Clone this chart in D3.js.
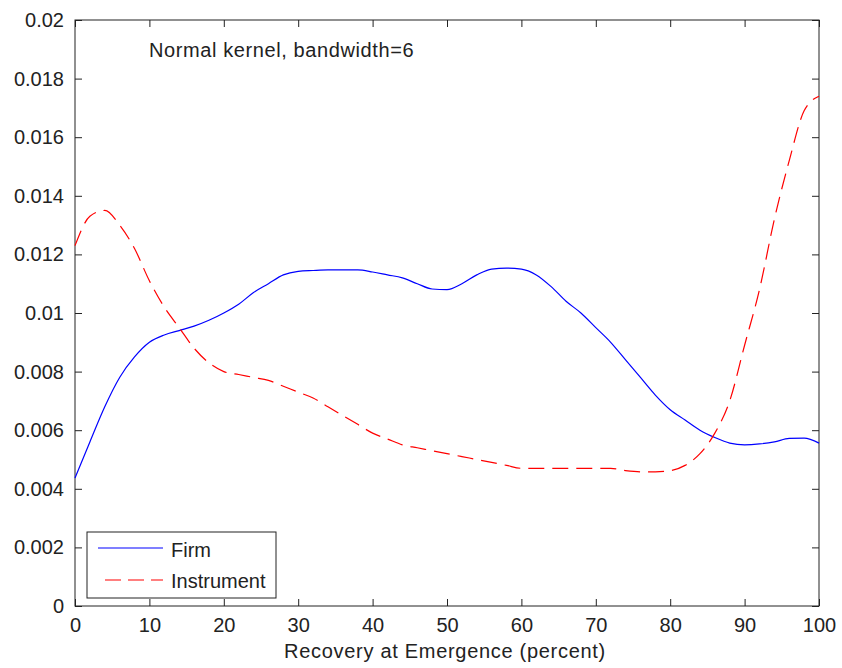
<!DOCTYPE html>
<html><head><meta charset="utf-8">
<script src="https://cdn.jsdelivr.net/npm/d3@7"></script>
<style>body{margin:0;background:#fff}svg{display:block}text{font-family:"Liberation Sans",Arial,sans-serif;fill:#222}</style>
</head><body><svg id="c" width="842" height="668"></svg>
<script>
const xs = d3.range(0, 101, 2);
const firm = [0.00437,0.0056,0.0068,0.0078,0.0085,0.0090,0.00925,0.0094,0.00955,0.00975,0.0100,0.0103,0.0107,0.0110,0.0113,0.01142,0.01145,0.01147,0.01147,0.01147,0.0114,0.0113,0.0112,0.0110,0.01082,0.0108,0.0110,0.0113,0.0115,0.01153,0.0115,0.0113,0.0109,0.0104,0.0100,0.0095,0.0090,0.0084,0.0078,0.0072,0.0067,0.00635,0.0060,0.00575,0.00556,0.0055,0.00553,0.0056,0.00572,0.00573,0.00556];
const instrument = [0.0123,0.0133,0.0135,0.0130,0.0122,0.0111,0.0102,0.0095,0.0088,0.0083,0.0080,0.0079,0.0078,0.0077,0.0075,0.0073,0.0071,0.0068,0.0065,0.0062,0.0059,0.0057,0.0055,0.0054,0.0053,0.0052,0.0051,0.0050,0.0049,0.0048,0.0047,0.0047,0.0047,0.0047,0.0047,0.0047,0.0047,0.00462,0.00458,0.00458,0.00462,0.0048,0.0052,0.0059,0.0070,0.0089,0.0108,0.0132,0.0152,0.0169,0.0174];
const xTicks = d3.range(0, 101, 10);
const yTicks = [0,0.002,0.004,0.006,0.008,0.01,0.012,0.014,0.016,0.018,0.02];
const yTickLabels = ["0","0.002","0.004","0.006","0.008","0.01","0.012","0.014","0.016","0.018","0.02"];
const seriesNames = ["Firm","Instrument"];
const titleText = "Normal kernel, bandwidth=6";
const xLabel = "Recovery at Emergence (percent)";

const L=75,R=819,T=20,B=606;
const svg=d3.select("#c");
const x=d3.scaleLinear().domain([0,100]).range([L,R]);
const y=d3.scaleLinear().domain([0,0.02]).range([B,T]);
const tl=7, axc="#222";
svg.append("rect").attr("x",L).attr("y",T).attr("width",R-L).attr("height",B-T).attr("fill","none").attr("stroke",axc).attr("stroke-width",1);
const fs="20px";
const gx=svg.append("g").attr("transform",`translate(0,${B})`).call(d3.axisBottom(x).tickValues(xTicks).tickSize(-tl).tickPadding(tl+4).tickFormat(d3.format("d")));
const gxt=svg.append("g").attr("transform",`translate(0,${T})`).call(d3.axisTop(x).tickValues(xTicks).tickSize(-tl).tickFormat(""));
const gy=svg.append("g").attr("transform",`translate(${L},0)`).call(d3.axisLeft(y).tickValues(yTicks).tickSize(-tl).tickPadding(tl+4).tickFormat((d,i)=>yTickLabels[i]));
const gyr=svg.append("g").attr("transform",`translate(${R},0)`).call(d3.axisRight(y).tickValues(yTicks).tickSize(-tl).tickFormat(""));
[gx,gxt,gy,gyr].forEach(g=>{g.select(".domain").remove();g.selectAll("line").attr("stroke",axc);g.selectAll("text").style("font-size",fs).attr("fill","#222").style("font-family","Liberation Sans, Arial, sans-serif");});
gx.selectAll("text").attr("dy",null).attr("y",null).attr("transform",null).each(function(){d3.select(this).attr("y",26);});

const line=d3.line().x((d,i)=>x(xs[i])).y(d=>y(d)).curve(d3.curveMonotoneX);
svg.append("path").datum(firm).attr("d",line).attr("fill","none").attr("stroke","#0000ff").attr("stroke-width",1.2);
svg.append("path").datum(instrument).attr("d",line).attr("fill","none").attr("stroke","#ff0000").attr("stroke-width",1.2).attr("stroke-dasharray","16,8");

svg.append("text").attr("x",149).attr("y",57).style("font-size",fs).style("letter-spacing","0.6px").text(titleText);
svg.append("text").attr("x",(L+R)/2-2).attr("y",658).attr("text-anchor","middle").style("font-size",fs).style("letter-spacing","0.7px").text(xLabel);

const lg=svg.append("g");
lg.append("rect").attr("x",87).attr("y",532).attr("width",189).attr("height",66).attr("fill","#fff").attr("stroke",axc);
const cols=["#0000ff","#ff0000"], dash=[null,"16,7"];
seriesNames.forEach((n,i)=>{
  const yy=548+i*32;
  lg.append("line").attr("x1",i?105:98).attr("x2",163).attr("y1",yy).attr("y2",yy).attr("stroke",cols[i]).attr("stroke-width",1.2).attr("stroke-dasharray",dash[i]);
  lg.append("text").attr("x",171).attr("y",557+i*31).style("font-size",fs).text(n);
});
</script></body></html>
